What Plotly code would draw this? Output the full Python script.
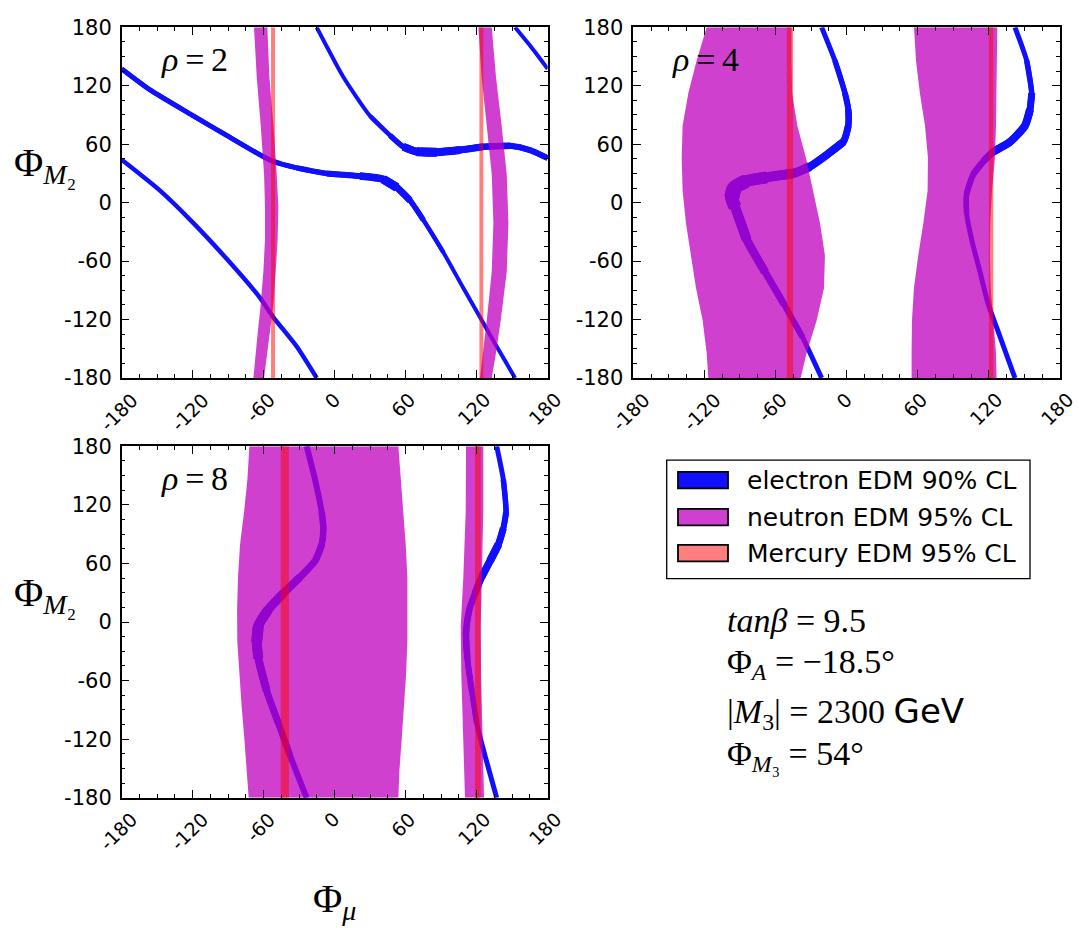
import plotly.graph_objects as go

W, H = 1079, 928

# ---------------- data ----------------
TICK_VALUES = [-180, -120, -60, 0, 60, 120, 180]
TICK_LABELS = ["-180", "-120", "-60", "0", "60", "120", "180"]
RHO_VALUES = ["2", "4", "8"]

# --- panel 1 (rho = 2): electron EDM curves (Phi_mu, Phi_M2)
P1_A_X = [-180, -156, -119.4, -91.3, -63, -51.8, -32.1, -6.8, 21.4, 41.1, 52.4, 63.7, 74.9, 91.8, 108.7, 122.8, 136.9, 152.4]
P1_A_Y = [137.3, 115.7, 89, 69, 49, 42.3, 35.7, 30, 27.3, 24, 15.7, 2.3, -17.7, -51, -87.7, -117.7, -147.7, -180]
P1_A2_X = [152.4, 166.5, 180]
P1_A2_Y = [180, 159, 137.3]
P1_B_X = [-15.2, 7.3, 29.9, 46.8, 58, 69.3, 86.2, 105.9, 125.6, 148.2, 165, 180]
P1_B_Y = [180, 129, 89, 69, 57.3, 52.3, 51.7, 54, 57.3, 58.3, 54, 45.7]
P1_C_X = [-180, -147.6, -119.4, -91.3, -63.1, -51.8, -32.1, -15.2]
P1_C_Y = [44, 12.3, -21, -57.7, -97.7, -117.7, -147.7, -180]

# neutron EDM bands: levels of Phi_M2 and left / right edges in Phi_mu
P1_N_LEVELS = [180, 129, 79, 29, -4.3, -37.7, -71, -104.3, -137.7, -180]
P1_N1_LEFT = [-68.2, -65.9, -62.5, -59.7, -58.9, -58.9, -60.3, -62.5, -65.4, -68.7]
P1_N1_RIGHT = [-56.9, -55.2, -51.8, -49.0, -47.6, -48.2, -49.9, -51.8, -55.2, -59.7]
P1_N2_LEVELS = [180, 129, 79, 29, -21, -71, -121, -154.3, -180]
P1_N2_LEFT = [121.4, 124.2, 128.5, 132.7, 134.1, 132.7, 128.5, 125.1, 122.8]
P1_N2_RIGHT = [132.7, 136.3, 141.1, 145.4, 146.8, 145.4, 140.3, 136.3, 132.7]
# mercury EDM bands (Phi_mu ranges)
P1_HG_LO = [-53.8, 122.3]
P1_HG_HI = [-50.4, 125.6]

# --- panel 2 (rho = 4)
P2_D_X = [-21.1, -9.9, -1.4, 1.4, 1.4, -2.8, -16.9, -31, -45, -67.5, -85, -95, -97, -94.2, -84.4, -68.9, -52.9, -37.4, -21.1]
P2_D_Y = [180, 145.7, 112.3, 95.7, 79, 62.3, 49, 37, 30, 26, 22, 15, 5, -4.3, -37.7, -71, -104.3, -137.7, -180]
P2_E_X = [142, 151.9, 156.1, 154.7, 150.4, 137.8, 123.7, 115.3, 106.8, 101.2, 101.2, 105.4, 112.5, 119.5, 129.4, 142]
P2_E_Y = [180, 145.7, 112.3, 95.7, 79, 62.3, 52.3, 42.3, 29, 9, -11, -37.7, -71, -104.3, -137.7, -180]

P2_N1_LEVELS = [180, 145.7, 112.3, 79, 45.7, 12.3, -21, -54.3, -87.7, -121, -154.3, -180]
P2_N1_LEFT = [-118.1, -126.6, -133.6, -138.4, -139.2, -138.4, -135.6, -131.6, -127.1, -121.5, -118.1, -116.7]
P2_N1_RIGHT = [-46.5, -46.5, -46.0, -41.6, -34.3, -28.1, -22.5, -18.3, -19.1, -25.3, -33.8, -38.8]
P2_N2_LEVELS = [180, 145.7, 112.3, 79, 45.7, 12.3, -21, -54.3, -87.7, -121, -154.3, -180]
P2_N2_LEFT = [56.8, 58.5, 61.8, 66.1, 68.6, 68.3, 64.7, 60.4, 56.8, 55.1, 54.8, 54.8]
P2_N2_RIGHT = [127.1, 127.1, 126.5, 126.0, 125.1, 122.6, 121.2, 120.9, 121.5, 123.7, 126.0, 126.5]
P2_HG_LO = [-50.5, 120.0]
P2_HG_HI = [-45.2, 123.7]

# --- panel 3 (rho = 8)
P3_F_X = [-23.7, -16.6, -11, -9.6, -11, -16.6, -29.3, -43.4, -56.1, -64.5, -65.9, -64.5, -57.5, -47.6, -37.7, -23.7]
P3_F_Y = [180, 145.8, 112.5, 95.9, 79.3, 62.6, 46, 29.4, 12.8, -3.8, -20.5, -37.1, -70.3, -103.6, -136.8, -180]
P3_G_X = [136.9, 142.5, 144.8, 142.5, 138.3, 131.3, 124.2, 118.6, 113.8, 111, 112.1, 115.8, 120, 127, 136.9]
P3_G_Y = [180, 145.8, 112.5, 95.9, 79.3, 62.6, 46, 29.4, 12.8, -10.5, -37.1, -70.3, -103.6, -136.8, -180]

P3_N1_LEVELS = [180, 145.8, 112.5, 79.3, 46, 12.8, -20.5, -53.7, -87, -120.2, -153.5, -180]
P3_N1_LEFT = [-72.1, -73.8, -76.6, -80, -81.7, -82.5, -82.3, -80.6, -78.6, -76.3, -74.4, -72.7]
P3_N1_RIGHT = [53.8, 55.8, 58, 60, 61.4, 61.7, 61.4, 60.3, 58.6, 56.6, 54.6, 53.8]
P3_N2_LEVELS = [180, 112.5, 46, -4.3, -54.3, -104.3, -180]
P3_N2_LEFT = [111, 110.7, 108.7, 106.5, 107, 108.2, 110.1]
P3_N2_RIGHT = [125.6, 125.6, 124.5, 123.4, 123.7, 124.5, 126.2]
P3_HG_LO = [-45.6, 118.6]
P3_HG_HI = [-38.6, 123.4]

LEGEND_LABELS = ["electron EDM 90% CL", "neutron EDM 95% CL", "Mercury EDM 95% CL"]

# ---------------- style ----------------
BLUE = "rgb(16,16,255)"
NEUTRON = "rgba(191,0,191,0.75)"
MERCURY = "rgba(255,0,0,0.5)"
SANS = "DejaVu Sans"
SERIF = "Liberation Serif"

# band thickness (px) along each electron curve, point by point
W_P1_A = [5, 5, 5, 5, 5, 5, 5.5, 6, 7.5, 9, 9, 7, 5.5, 4.5, 4, 4, 4, 4]
W_P1_A2 = [4, 4, 4]
W_P1_B = [4, 4, 4.5, 5.5, 8, 9, 9, 8, 7, 6.5, 6, 6]
W_P1_C = [4.5] * 8
W_P2_D = [5, 5.5, 6, 6.5, 7, 8, 8, 9, 10, 12, 14, 15, 15, 13, 10, 8.5, 7, 6, 5]
W_P2_E = [5, 5.5, 7, 8, 8, 8.5, 8, 7, 6.5, 6, 5.5, 5, 5, 5, 5, 5]
W_P3_F = [6, 6, 6.5, 6.5, 7, 7, 8, 9, 10, 11, 11, 10, 8, 7, 6.5, 6]
W_P3_G = [5, 5.5, 6, 7, 8, 8, 7.5, 7, 6.5, 6.5, 6.5, 6, 5.5, 5, 5]

# panel boxes in pixels: (left, right, top, bottom)
BOXES = [(121.7, 547.7, 15.7, 375.7), (633.3, 1060.0, 15.7, 375.7), (121.7, 547.7, 445.7, 806.7)]

fig = go.Figure()


def ax_names(i):
    s = "" if i == 0 else str(i + 1)
    return "x" + s, "y" + s


def add_curve(i, xs, ys, ws):
    """Draw a band of varying thickness as stacked spline strokes."""
    xa, ya = ax_names(i)
    lvl = min(ws)
    top = max(ws)
    while lvl <= top + 1e-9:
        idx = [k for k, w in enumerate(ws) if w >= lvl - 1e-9]
        runs, cur = [], []
        for k in idx:
            if cur and k != cur[-1] + 1:
                runs.append(cur)
                cur = []
            cur.append(k)
        if cur:
            runs.append(cur)
        for run in runs:
            if len(run) < 2:
                continue
            a, b = run[0], run[-1]
            fig.add_trace(go.Scatter(x=xs[a:b + 1], y=ys[a:b + 1], mode="lines", xaxis=xa, yaxis=ya,
                                     line=dict(color=BLUE, width=lvl, shape="spline", smoothing=0.6),
                                     hoverinfo="skip", showlegend=False))
        lvl += 0.5


def band_polygon(levels, left, right):
    return list(left) + list(right)[::-1] + [left[0]], list(levels) + list(levels)[::-1] + [levels[0]]


def add_bands(i, bands):
    xa, ya = ax_names(i)
    X, Y = [], []
    for lv, l, r in bands:
        px, py = band_polygon(lv, l, r)
        X += px + [None]
        Y += py + [None]
    fig.add_trace(go.Scatter(x=X, y=Y, mode="lines", fill="toself", fillcolor=NEUTRON,
                             line=dict(width=0), xaxis=xa, yaxis=ya, hoverinfo="skip", showlegend=False))


def add_mercury(i, lo, hi):
    xa, ya = ax_names(i)
    X, Y = [], []
    for a, b in zip(lo, hi):
        X += [a, b, b, a, a, None]
        Y += [-180, -180, 180, 180, -180, None]
    fig.add_trace(go.Scatter(x=X, y=Y, mode="lines", fill="toself", fillcolor=MERCURY,
                             line=dict(width=0), xaxis=xa, yaxis=ya, hoverinfo="skip", showlegend=False))


# panel 1
add_curve(0, P1_A_X, P1_A_Y, W_P1_A)
add_curve(0, P1_A2_X, P1_A2_Y, W_P1_A2)
add_curve(0, P1_B_X, P1_B_Y, W_P1_B)
add_curve(0, P1_C_X, P1_C_Y, W_P1_C)
add_bands(0, [(P1_N_LEVELS, P1_N1_LEFT, P1_N1_RIGHT), (P1_N2_LEVELS, P1_N2_LEFT, P1_N2_RIGHT)])
add_mercury(0, P1_HG_LO, P1_HG_HI)

# panel 2
add_curve(1, P2_D_X, P2_D_Y, W_P2_D)
add_curve(1, P2_E_X, P2_E_Y, W_P2_E)
add_bands(1, [(P2_N1_LEVELS, P2_N1_LEFT, P2_N1_RIGHT), (P2_N2_LEVELS, P2_N2_LEFT, P2_N2_RIGHT)])
add_mercury(1, P2_HG_LO, P2_HG_HI)

# panel 3
add_curve(2, P3_F_X, P3_F_Y, W_P3_F)
add_curve(2, P3_G_X, P3_G_Y, W_P3_G)
add_bands(2, [(P3_N1_LEVELS, P3_N1_LEFT, P3_N1_RIGHT), (P3_N2_LEVELS, P3_N2_LEFT, P3_N2_RIGHT)])
add_mercury(2, P3_HG_LO, P3_HG_HI)


def px_x(p):
    return p / W


def px_y(p):
    return 1 - p / H


layout = dict(width=W, height=H, margin=dict(l=0, r=0, t=0, b=0),
              paper_bgcolor="white", plot_bgcolor="white", showlegend=False)

annotations = []
for i, (l, r, t, b) in enumerate(BOXES):
    s = "" if i == 0 else str(i + 1)
    common = dict(range=[-180, 180], showline=True, linecolor="black", linewidth=1.5, mirror="allticks",
                  ticks="inside", ticklen=8, tickwidth=1.2, tickcolor="black", showgrid=False, zeroline=False,
                  tickvals=TICK_VALUES, ticktext=TICK_LABELS,
                  minor=dict(dtick=15, ticklen=4, tickwidth=1.0, tickcolor="black", ticks="inside", showgrid=False))
    layout["xaxis" + s] = dict(common, domain=[px_x(l), px_x(r)], anchor="y" + s, showticklabels=False)
    layout["yaxis" + s] = dict(common, domain=[px_y(b), px_y(t)], anchor="x" + s, showticklabels=True,
                               tickfont=dict(family=SANS, size=21, color="black"), ticklabelstandoff=4)
    # rotated x tick labels centred on the ticks
    for v, lab in zip(TICK_VALUES, TICK_LABELS):
        annotations.append(dict(x=v, xref="x" + s, y=px_y(b + 8), yref="paper", text=lab, showarrow=False,
                                textangle=-45, xanchor="center", yanchor="top", xshift=-3,
                                font=dict(family=SANS, size=19, color="black")))
    # rho label
    annotations.append(dict(x=px_x(l + 37), y=px_y(t + 33), xref="paper", yref="paper",
                            text="<i>ρ</i>\u2009=\u2009" + RHO_VALUES[i], showarrow=False, xanchor="left",
                            yanchor="middle", font=dict(family=SERIF, size=34, color="black")))

# axis titles
for cy in (157, 598):
    annotations.append(dict(x=px_x(12), y=px_y(cy), xref="paper", yref="paper", xanchor="left", yanchor="middle",
                            text="Φ<sub><i>M</i>₂</sub>", showarrow=False,
                            font=dict(family=SERIF, size=40, color="black")))
annotations.append(dict(x=px_x(311), y=px_y(913), xref="paper", yref="paper", xanchor="left", yanchor="middle",
                        text="Φ<sub><i>μ</i></sub>", showarrow=False, font=dict(family=SERIF, size=40, color="black")))

# legend drawn by hand
shapes = [dict(type="rect", xref="paper", yref="paper", x0=px_x(666.7), x1=px_x(1030), y0=px_y(581.7), y1=px_y(460),
               line=dict(color="black", width=1.3), fillcolor="white", layer="below")]
patch_rows = [(472, 489), (510, 527), (547, 564)]
patch_fill = [BLUE, NEUTRON, MERCURY]
for (t0, b0), fc, lab in zip(patch_rows, patch_fill, LEGEND_LABELS):
    shapes.append(dict(type="rect", xref="paper", yref="paper", x0=px_x(678), x1=px_x(728), y0=px_y(b0), y1=px_y(t0),
                       line=dict(color="black", width=1.8), fillcolor=fc))
    annotations.append(dict(x=px_x(745), y=px_y((t0 + b0) / 2), xref="paper", yref="paper", text=lab,
                            showarrow=False, xanchor="left", yanchor="middle",
                            font=dict(family=SANS, size=25, color="black")))

# parameter text
param_lines = [
    (625, "<i>tanβ</i> = 9.5"),
    (669, "Φ<sub><i>A</i></sub> = −18.5°"),
    (720, "|<i>M</i><sub>3</sub>| = 2300 <span style='font-family:DejaVu Sans'>GeV</span>"),
    (764, "Φ<sub><i>M</i>₃</sub> = 54°"),
]
for cy, txt in param_lines:
    annotations.append(dict(x=px_x(725), y=px_y(cy), xref="paper", yref="paper", text=txt, showarrow=False,
                            xanchor="left", yanchor="middle", font=dict(family=SERIF, size=34, color="black")))

layout["annotations"] = annotations
layout["shapes"] = shapes
fig.update_layout(**layout)
fig.write_html("out.html")
